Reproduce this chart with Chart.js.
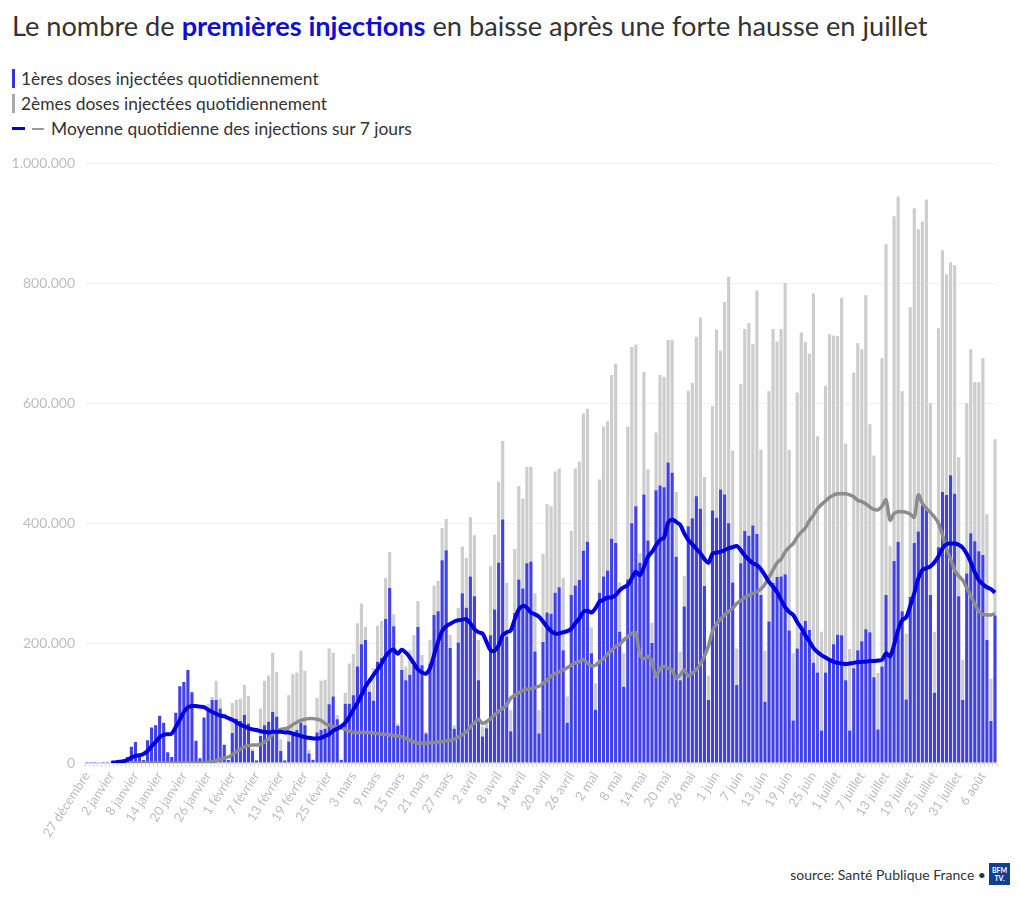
<!DOCTYPE html>
<html lang="fr">
<head>
<meta charset="utf-8">
<script src="https://cdn.jsdelivr.net/npm/chart.js@4/dist/chart.umd.min.js"></script>
<style>
  html, body { margin: 0; padding: 0; background: #fff; }
  body { width: 1020px; height: 900px; position: relative; font-family: Lato, "Noto Sans", sans-serif; color: #333; }
  #title { position: absolute; left: 12px; top: 9px; font-size: 27.2px; white-space: nowrap; }
  #title b { color: #0f0fd4; font-weight: 700; }
  #legend { position: absolute; left: 12px; top: 66px; font-size: 17.4px; line-height: 25px; }
  #legend .row { display: flex; align-items: center; height: 25px; }
  .vbar { display: inline-block; width: 3px; height: 19px; margin-right: 6px; }
  .dash { display: inline-block; height: 3px; margin-right: 7px; }
  #chart { position: absolute; left: 0; top: 145px; }
  #source { position: absolute; right: 34px; top: 866px; font-size: 14px; color: #333; }
  #logo { position: absolute; left: 989px; top: 863px; width: 21px; height: 22px; background: #123f91;
          color: #fff; font: bold 7px/8px Lato, sans-serif; text-align: center; padding-top: 3px; box-sizing: border-box; }
</style>
</head>
<body>
<div id="title">Le nombre de <b>premières injections</b> en baisse après une forte hausse en juillet</div>
<div id="legend">
  <div class="row"><span class="vbar" style="background:#3535e0"></span>1ères doses injectées quotidiennement</div>
  <div class="row"><span class="vbar" style="background:#a8a8a8"></span>2èmes doses injectées quotidiennement</div>
  <div class="row"><span class="dash" style="width:13px;background:#0000e0"></span><span class="dash" style="width:12px;height:2px;background:#999"></span>Moyenne quotidienne des injections sur 7 jours</div>
</div>
<canvas id="chart" width="1020" height="718"></canvas>
<div id="source">source: Santé Publique France •</div>
<div id="logo">BFM<br>TV.</div>
<script>
// one category per day, 27 décembre -> 9 août
const months = [['décembre', 31], ['janvier', 31], ['février', 28], ['mars', 31], ['avril', 30],
                ['mai', 31], ['juin', 30], ['juillet', 31], ['août', 31]];
const firstDay = 27;
const dayCount = 226;
const labelEvery = 6;

// daily values, in thousands
const firstDoses = [
  0.1, 0.1, 0.2, 0.3, 0.1, 0.2, 0.3, 0.5, 1, 3,
  10, 27, 35, 12, 5, 38, 59, 63, 79, 67,
  18, 10, 84, 128, 135, 155, 118, 37, 8, 76,
  90, 105, 105, 91, 30, 5, 50, 74, 70, 80,
  66, 20, 4, 45, 63, 69, 85, 77, 20, 4,
  36, 49, 55, 67, 63, 16, 5, 51, 55, 57,
  98, 111, 73, 5, 99, 99, 113, 161, 198, 205,
  119, 104, 169, 175, 240, 292, 228, 62, 155, 138,
  147, 162, 227, 163, 49, 166, 247, 253, 338, 355,
  192, 57, 201, 283, 259, 311, 278, 138, 44, 58,
  213, 256, 334, 406, 211, 53, 250, 306, 291, 333,
  336, 186, 49, 202, 251, 249, 284, 293, 188, 67,
  280, 296, 305, 354, 369, 183, 89, 284, 311, 321,
  374, 367, 219, 127, 306, 400, 428, 334, 448, 371,
  200, 455, 463, 460, 501, 484, 344, 138, 261, 395,
  408, 445, 424, 295, 105, 421, 409, 456, 448, 400,
  301, 130, 333, 387, 379, 396, 382, 280, 102, 236,
  300, 310, 311, 315, 221, 71, 191, 218, 237, 222,
  167, 151, 54, 151, 172, 198, 214, 213, 138, 54,
  158, 188, 203, 223, 218, 143, 56, 161, 280, 176,
  337, 369, 253, 106, 277, 367, 386, 430, 427, 280,
  117, 360, 452, 447, 480, 449, 278, 105, 316, 383,
  370, 353, 347, 205, 70, 246
];
const secondDoses = [
  0, 0, 0, 0, 0, 0, 0, 0, 0, 0,
  0, 0, 0, 0, 0, 0, 0, 0, 0, 0,
  0, 0, 0, 0, 0, 0, 0, 0, 0, 0,
  9, 5, 32, 16, 2, 0, 50, 31, 37, 50,
  46, 4, 1, 46, 74, 77, 99, 75, 19, 1,
  77, 99, 96, 120, 91, 6, 1, 58, 82, 82,
  93, 73, 7, 1, 18, 67, 69, 72, 68, 22,
  11, 54, 60, 62, 69, 60, 20, 4, 25, 23,
  41, 51, 43, 17, 3, 39, 49, 51, 54, 52,
  22, 6, 58, 78, 83, 99, 102, 67, 17, 11,
  115, 125, 135, 131, 89, 35, 107, 156, 150, 161,
  158, 97, 39, 147, 181, 179, 202, 198, 121, 44,
  107, 195, 198, 229, 222, 43, 44, 189, 250, 249,
  273, 299, 82, 56, 255, 294, 270, 16, 204, 119,
  34, 96, 184, 184, 205, 222, 108, 48, 51, 226,
  226, 266, 319, 182, 41, 174, 314, 232, 321, 411,
  220, 61, 299, 337, 355, 303, 406, 243, 85, 384,
  424, 393, 413, 486, 301, 112, 427, 500, 465, 461,
  616, 394, 165, 478, 543, 515, 498, 563, 395, 136,
  493, 512, 487, 557, 347, 370, 94, 514, 585, 186,
  575, 576, 367, 110, 483, 558, 504, 473, 513, 320,
  102, 365, 403, 368, 355, 381, 232, 67, 284, 307,
  265, 282, 328, 210, 70, 294
];
// 7-day averages, in thousands (no value for the first six days)
const firstAvg = [
  null, null, null, null, null, null, 0.5, 1, 2, 3,
  5, 9, 12, 13, 15, 20, 28, 35, 43, 47,
  48, 49, 60, 72, 85, 93, 95, 95, 94, 93,
  89, 85, 82, 79, 78, 75, 72, 68, 64, 61,
  58, 56, 55, 53, 52, 51, 52, 52, 52, 51,
  51, 49, 47, 45, 43, 42, 41, 41, 42, 45,
  48, 54, 57, 61, 67, 77, 89, 100, 113, 127,
  137, 147, 156, 166, 178, 186, 189, 182, 189, 184,
  176, 166, 156, 151, 149, 158, 180, 202, 220, 228,
  232, 236, 238, 239, 240, 233, 223, 218, 216, 202,
  188, 187, 196, 213, 218, 221, 240, 256, 262, 259,
  251, 248, 244, 236, 227, 220, 216, 216, 218, 220,
  224, 233, 241, 252, 254, 251, 258, 269, 272, 276,
  276, 280, 288, 293, 297, 308, 319, 313, 327, 344,
  352, 363, 372, 376, 401, 406, 402, 397, 383, 372,
  365, 357, 350, 340, 334, 349, 351, 352, 355, 358,
  360, 362, 355, 346, 339, 333, 330, 323, 313, 302,
  294, 285, 272, 260, 252, 247, 235, 225, 213, 203,
  192, 185, 180, 176, 172, 169, 167, 166, 165, 166,
  167, 168, 169, 169, 170, 170, 171, 172, 183, 178,
  197, 222, 238, 243, 262, 283, 308, 322, 325, 328,
  335, 345, 358, 365, 366, 366, 364, 359, 349, 335,
  318, 305, 298, 293, 290, 284
];
const secondAvg = [
  null, null, null, null, null, null, 0, 0, 0, 0,
  0, 0, 0, 0, 0, 0, 0, 0, 0, 0,
  0, 0, 0, 0, 0, 0, 0, 0, 0, 0,
  1, 2, 4, 6, 8, 10, 14, 19, 23, 27,
  29, 30, 30, 31, 35, 40, 48, 53, 56, 57,
  59, 64, 68, 71, 73, 74, 74, 73, 71, 66,
  63, 61, 60, 59, 56, 53, 51, 51, 51, 51,
  51, 50, 49, 48, 48, 47, 46, 45, 44, 41,
  38, 35, 33, 33, 33, 34, 34, 35, 36, 37,
  38, 40, 43, 47, 52, 60, 67, 73, 66, 69,
  74, 80, 86, 91, 97, 108, 113, 117, 121, 123,
  124, 126, 128, 133, 138, 145, 149, 152, 155, 159,
  163, 167, 169, 172, 167, 162, 163, 169, 174, 182,
  188, 194, 198, 205, 211, 216, 217, 180, 174, 178,
  169, 144, 158, 161, 158, 155, 141, 147, 155, 145,
  150, 156, 165, 178, 195, 220, 232, 240, 247, 253,
  258, 266, 271, 276, 280, 283, 286, 290, 298, 310,
  322, 334, 340, 352, 360, 366, 377, 385, 392, 404,
  413, 424, 431, 437, 443, 447, 449, 449, 449, 447,
  444, 438, 436, 432, 427, 423, 422, 428, 439, 405,
  416, 419, 419, 418, 415, 410, 447, 433, 424, 418,
  410, 400, 380, 357, 340, 322, 312, 305, 292, 279,
  265, 253, 248, 247, 247, 249
];

const dayLabels = [];
let m = 0, dd = firstDay;
for (let i = 0; i < dayCount; i++) {
  dayLabels.push(dd + ' ' + months[m][0]);
  dd++;
  if (dd > months[m][1]) { dd = 1; m++; }
}

function formatThousands(v) {
  return String(Math.round(v * 1000)).replace(/\B(?=(\d{3})+(?!\d))/g, '.');
}

const tickFont = { family: 'Lato', size: 13 };

new Chart(document.getElementById('chart'), {
  type: 'bar',
  data: {
    labels: dayLabels,
    datasets: [
      {
        type: 'line', label: 'Moyenne 1ères doses', data: firstAvg, order: 0, stack: 'avg1',
        borderColor: '#0000e0', borderWidth: 4, pointRadius: 0, tension: 0.3, fill: false
      },
      {
        type: 'line', label: 'Moyenne 2èmes doses', data: secondAvg, order: 0, stack: 'avg2',
        borderColor: '#8c8c8c', borderWidth: 3.5, pointRadius: 0, tension: 0.3, fill: false
      },
      {
        label: '1ères doses', data: firstDoses, order: 1, stack: 'doses',
        backgroundColor: '#4141e6', categoryPercentage: 1, barPercentage: 0.78
      },
      {
        label: '2èmes doses', data: secondDoses, order: 1, stack: 'doses',
        backgroundColor: '#cdcdcd', categoryPercentage: 1, barPercentage: 0.78
      }
    ]
  },
  options: {
    responsive: false,
    animation: false,
    devicePixelRatio: 1,
    layout: { padding: { top: 18, right: 23, left: 0, bottom: 0 } },
    plugins: { legend: { display: false }, tooltip: { enabled: false } },
    scales: {
      x: {
        stacked: true,
        grid: { drawOnChartArea: false, drawTicks: true, tickLength: 4, color: '#dcdcdc' },
        border: { color: '#dcdcdc' },
        ticks: {
          autoSkip: false, minRotation: 57, maxRotation: 57, color: '#bdbdbd', font: tickFont, padding: 2,
          callback: (v, i) => (i % labelEvery === 0 ? dayLabels[i] : '')
        },
        afterFit: scale => { scale.height = 100; }
      },
      y: {
        stacked: true,
        min: 0, max: 1000,
        grid: { color: '#f1f1f1', drawTicks: false },
        border: { display: false },
        ticks: { stepSize: 200, color: '#bdbdbd', font: { family: 'Lato', size: 14 }, padding: 10,
                 callback: v => formatThousands(v) },
        afterFit: scale => { scale.width = 85; }
      }
    }
  }
});
</script>
</body>
</html>
